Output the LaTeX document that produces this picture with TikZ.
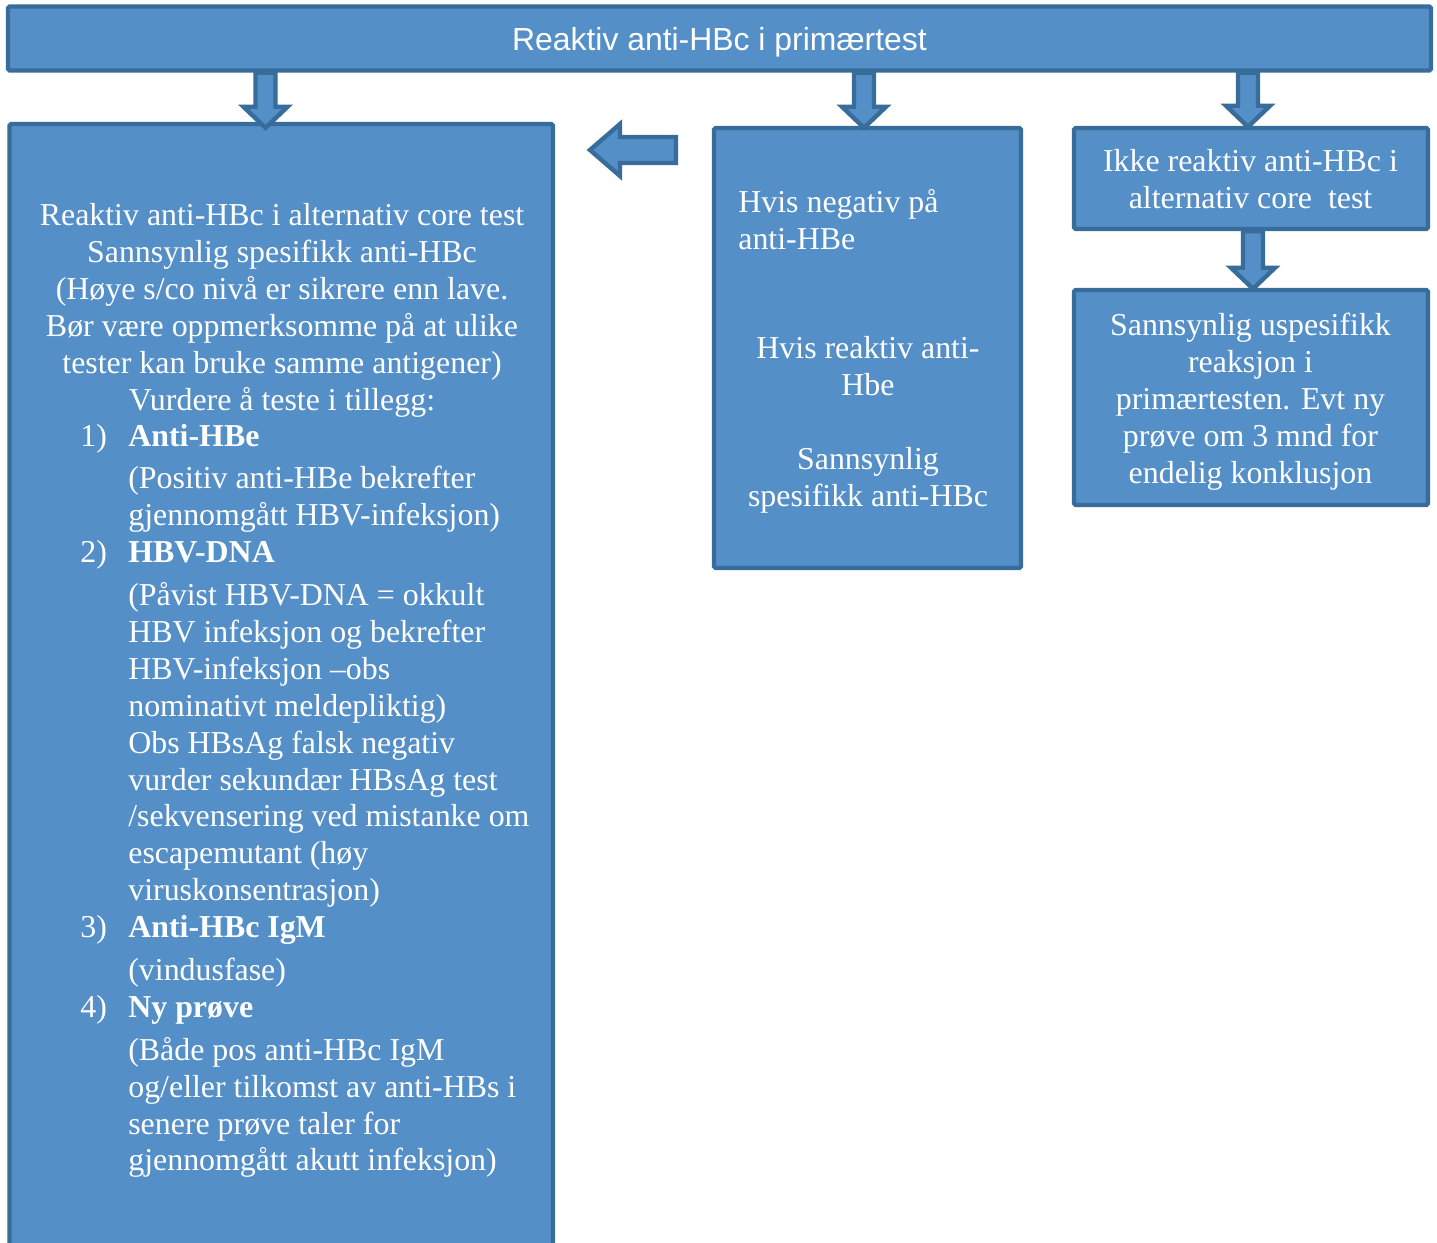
\documentclass[tikz,border=0pt]{standalone}
\usepackage{fontspec}
\setmainfont{Liberation Serif}
\setsansfont{Liberation Sans}
\usetikzlibrary{calc}

\definecolor{boxfill}{RGB}{85,143,200}
\definecolor{boxline}{RGB}{55,108,155}

\newcommand{\pxu}{0.02cm}
% block arrow pointing down: #1 = top of shaft, #2 = tip
\newcommand{\blockdown}[2]{%
	\draw[blockarrow] ($(#1)+(-10,0)$) -- ($(#2)+(-10,-21)$) -- ($(#2)+(-22,-21)$) -- (#2)
		-- ($(#2)+(22,-21)$) -- ($(#2)+(10,-21)$) -- ($(#1)+(10,0)$) -- cycle;}
% block arrow pointing left: #1 = end of shaft, #2 = tip
\newcommand{\blockleft}[2]{%
	\draw[blockarrow] ($(#1)+(0,-13)$) -- ($(#2)+(30,-13)$) -- ($(#2)+(30,-26)$) -- (#2)
		-- ($(#2)+(30,26)$) -- ($(#2)+(30,13)$) -- ($(#1)+(0,13)$) -- cycle;}

\begin{document}
\begin{tikzpicture}[x=0.02cm, y=-0.02cm,
		box/.style={draw=boxline, fill=boxfill, line width=2.5pt, rounded corners=1pt, inner sep=0pt},
		blockarrow/.style={draw=boxline, fill=boxfill, line width=2.5pt},
		txt/.style={text=white, inner sep=0pt, font=\fontsize{18.15}{21}\selectfont}]
		\useasboundingbox (0,0) rectangle (1437,1243);
		\clip (0,0) rectangle (1437,1243);

		% boxes
		\node[box, minimum width=1423*\pxu, minimum height=64*\pxu, text=white, text depth=0pt,
			font=\sffamily\fontsize{18.15}{21}\selectfont] (title) at (719.5,38.5) {Reaktiv anti-HBc i primærtest};
		\node[box, minimum width=543.5*\pxu, minimum height=1146*\pxu] (leftbox) at (281.25,697) {};
		\node[box, minimum width=307*\pxu, minimum height=440*\pxu] (midbox) at (867.5,348) {};
		\node[box, minimum width=354*\pxu, minimum height=101*\pxu] (rtop) at (1251,178.5) {};
		\node[box, minimum width=354*\pxu, minimum height=215*\pxu] (rbot) at (1251,397.5) {};

		% arrows
		\coordinate (a1s) at (265.5,0 |- title.south);
		\coordinate (a1e) at ($(265.5,0 |- leftbox.north)+(0,6)$);
		\coordinate (a2s) at (864,0 |- title.south);
		\coordinate (a2e) at ($(864,0 |- midbox.north)+(0,2)$);
		\coordinate (a3s) at (1248,0 |- title.south);
		\coordinate (a3e) at ($(1248,0 |- rtop.north)+(0,1)$);
		\coordinate (a4s) at (1253,0 |- rtop.south);
		\coordinate (a4e) at ($(1253,0 |- rbot.north)+(0,1)$);
		\coordinate (l1s) at (676,150);
		\coordinate (l1e) at (590,150);
		\blockdown{a1s}{a1e}
		\blockdown{a2s}{a2e}
		\blockdown{a3s}{a3e}
		\blockdown{a4s}{a4e}
		\blockleft{l1s}{l1e}

		% left box text
		\node[txt, anchor=base] (lefthead) at (282,226) {\begin{tabular}[t]{@{}c@{}}
			Reaktiv anti-HBc i alternativ core test\\
			Sannsynlig spesifikk anti-HBc\\
			(Høye s/co nivå er sikrere enn lave.\\
			Bør være oppmerksomme på at ulike\\
			tester kan bruke samme antigener)\\
			Vurdere å teste i tillegg:
		\end{tabular}};
		\node[txt, anchor=base west] (leftlist) at (80,446) {\begin{tabular}[t]{@{}p{0.96cm}@{}l@{}}
			1) & \textbf{Anti-HBe}\\[3.4pt]
			& (Positiv anti-HBe bekrefter\\
			& gjennomgått HBV-infeksjon)\\
			2) & \textbf{HBV-DNA}\\[3.4pt]
			& (Påvist HBV-DNA = okkult\\
			& HBV infeksjon og bekrefter\\
			& HBV-infeksjon –obs\\
			& nominativt meldepliktig)\\
			& Obs HBsAg falsk negativ\\
			& vurder sekundær HBsAg test\\
			& /sekvensering ved mistanke om\\
			& escapemutant (høy\\
			& viruskonsentrasjon)\\
			3) & \textbf{Anti-HBc IgM}\\[3.4pt]
			& (vindusfase)\\
			4) & \textbf{Ny prøve}\\[3.4pt]
			& (Både pos anti-HBc IgM\\
			& og/eller tilkomst av anti-HBs i\\
			& senere prøve taler for\\
			& gjennomgått akutt infeksjon)
		\end{tabular}};

		% middle box text
		\node[txt, anchor=base west] (midneg) at (738,213) {\begin{tabular}[t]{@{}l@{}}
			Hvis negativ på\\
			anti-HBe
		\end{tabular}};
		\node[txt, anchor=base] (midpos) at (868,359) {\begin{tabular}[t]{@{}c@{}}
			Hvis reaktiv anti-\\
			Hbe\\
			\\
			Sannsynlig\\
			spesifikk anti-HBc
		\end{tabular}};

		% right boxes text
		\node[txt, anchor=base] (rtoptext) at (1250.5,172) {\begin{tabular}[t]{@{}c@{}}
			Ikke reaktiv anti-HBc i\\
			alternativ core\ \ test
		\end{tabular}};
		\node[txt, anchor=base] (rbottext) at (1250.5,336) {\begin{tabular}[t]{@{}c@{}}
			Sannsynlig uspesifikk\\
			reaksjon i\\
			primærtesten. Evt ny\\
			prøve om 3 mnd for\\
			endelig konklusjon
		\end{tabular}};
\end{tikzpicture}
\end{document}
